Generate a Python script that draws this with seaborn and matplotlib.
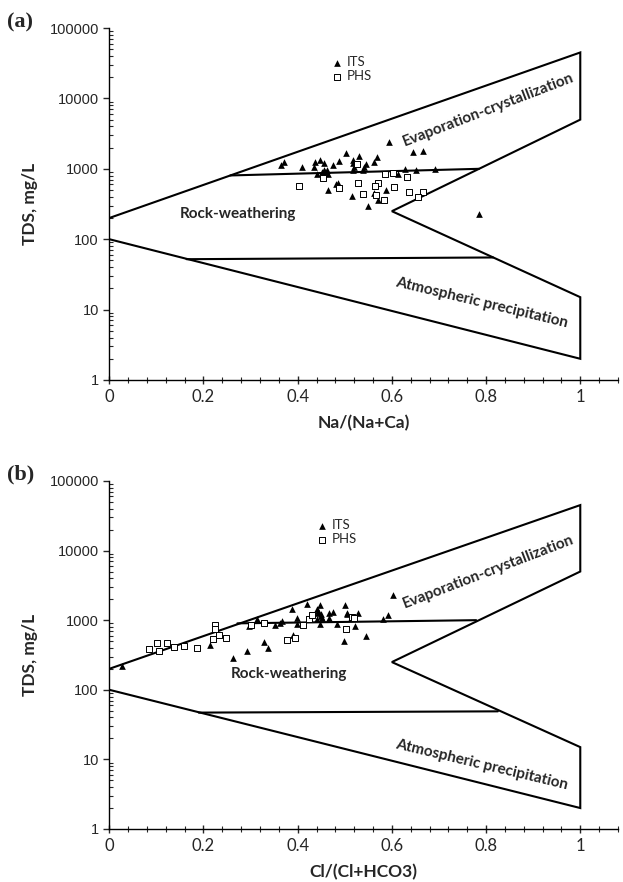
import matplotlib
matplotlib.use("Agg")
import matplotlib.pyplot as plt
import matplotlib.ticker as mticker
import seaborn as sns
import pandas as pd

# boundary of the Gibbs diagram (x, TDS)
outline_x = [0, 1, 1, 0.6, 1, 1, 0]
outline_y = [200, 45000, 5000, 250, 15, 2, 100]

# panel (a): Na/(Na+Ca)
a_upper_x = [0.257, 0.785]
a_upper_y = [805, 1000]
a_lower_x = [0.164, 0.815]
a_lower_y = [52, 55]

a_its_x = [0.364, 0.370, 0.409, 0.437, 0.448, 0.455, 0.435, 0.441, 0.451, 0.458,
           0.465, 0.455, 0.462, 0.475, 0.487, 0.503, 0.517, 0.517, 0.520, 0.518,
           0.530, 0.545, 0.540, 0.538, 0.568, 0.563, 0.594, 0.645, 0.666, 0.628,
           0.652, 0.692, 0.612, 0.485, 0.482, 0.464, 0.516, 0.561, 0.588, 0.571,
           0.550, 0.653, 0.785]
a_its_y = [1125, 1253, 1044, 1253, 1356, 1229, 1044, 857, 903, 903,
           857, 977, 977, 1125, 1295, 1683, 1356, 1213, 1064, 977,
           1511, 1189, 1064, 977, 1476, 1241, 2366, 1706, 1778, 987,
           977, 1010, 857, 638, 604, 497, 408, 446, 508, 366,
           294, 398, 225]
a_phs_x = [0.403, 0.526, 0.453, 0.487, 0.528, 0.571, 0.564, 0.586, 0.602, 0.632,
           0.605, 0.538, 0.566, 0.583, 0.637, 0.666, 0.655]
a_phs_y = [571, 1162, 752, 535, 638, 630, 571, 857, 875, 767,
           553, 436, 421, 366, 469, 469, 398]

# panel (b): Cl/(Cl+HCO3)
b_upper_x = [0.272, 0.779]
b_upper_y = [900, 1000]
b_lower_x = [0.19, 0.825]
b_lower_y = [47, 49]

b_its_x = [0.028, 0.214, 0.263, 0.292, 0.297, 0.314, 0.329, 0.337, 0.352, 0.366,
           0.363, 0.388, 0.391, 0.398, 0.399, 0.419, 0.444, 0.448, 0.449, 0.451,
           0.441, 0.448, 0.467, 0.476, 0.483, 0.501, 0.504, 0.499, 0.522, 0.529,
           0.444, 0.449, 0.441, 0.467, 0.504, 0.545, 0.582, 0.591, 0.603, 0.513]
b_its_y = [218, 433, 288, 366, 820, 1023, 489, 392, 847, 968,
           918, 1426, 622, 1083, 867, 1722, 1277, 1627, 1208, 1083,
           1426, 867, 1277, 1321, 888, 1627, 1277, 499, 820, 1277,
           1346, 1142, 1023, 1083, 1208, 589, 1023, 1169, 2290, 1083]
b_phs_x = [0.085, 0.102, 0.106, 0.123, 0.137, 0.159, 0.187, 0.225, 0.225, 0.221,
           0.234, 0.247, 0.300, 0.329, 0.378, 0.395, 0.411, 0.425, 0.431, 0.503,
           0.515, 0.520]
b_phs_y = [388, 473, 366, 473, 414, 423, 392, 839, 752, 540,
           622, 558, 839, 897, 527, 558, 839, 1047, 1169, 735,
           1119, 1083]

x_ticks = [0, 0.2, 0.4, 0.6, 0.8, 1]
x_labels = ["0", "0.2", "0.4", "0.6", "0.8", "1"]
y_ticks = [1, 10, 100, 1000, 10000, 100000]
y_labels = ["1", "10", "100", "1000", "10000", "100000"]

sns.set_style("ticks")
plt.rcParams["font.family"] = ["Lato", "DejaVu Sans"]

fig = plt.figure(figsize=(6.23, 8.82), dpi=100)
ax_a = fig.add_axes([0.1754, 0.5692, 0.8165, 0.399])
ax_b = fig.add_axes([0.1754, 0.0601, 0.8165, 0.3946])


def draw_panel(ax, upper, lower, its, phs, xlabel, texts, leg_anchor):
    ax.plot(outline_x, outline_y, color="black", lw=1.5, solid_joinstyle="miter")
    ax.plot(upper[0], upper[1], color="black", lw=1.5)
    ax.plot(lower[0], lower[1], color="black", lw=1.5)
    its_df = pd.DataFrame({"x": its[0], "tds": its[1]})
    phs_df = pd.DataFrame({"x": phs[0], "tds": phs[1]})
    sns.scatterplot(data=its_df, x="x", y="tds", ax=ax, marker="^", color="black",
                    s=23, linewidth=0, label="ITS", zorder=3)
    sns.scatterplot(data=phs_df, x="x", y="tds", ax=ax, marker="s", facecolor="white",
                    edgecolor="black", s=15, linewidth=0.7, label="PHS", zorder=3)
    ax.set_yscale("log")
    ax.set_xlim(0, 1.08)
    ax.set_ylim(1, 100000)
    ax.set_xticks(x_ticks)
    ax.set_xticklabels(x_labels, fontsize=12)
    ax.xaxis.set_minor_locator(mticker.MultipleLocator(0.04))
    ax.set_yticks(y_ticks)
    ax.set_yticklabels(y_labels, fontsize=10.5, family="Liberation Sans")
    ax.yaxis.set_minor_locator(mticker.LogLocator(base=10, subs=range(2, 10)))
    ax.yaxis.set_minor_formatter(mticker.NullFormatter())
    ax.tick_params(axis="x", which="major", direction="inout", length=6, width=1)
    ax.tick_params(axis="x", which="minor", direction="inout", length=4, width=0.8)
    ax.tick_params(axis="y", which="major", direction="out", length=4, width=1)
    ax.tick_params(axis="y", which="minor", direction="in", length=3, width=0.8)
    for side in ["top", "right"]:
        ax.spines[side].set_visible(False)
    for side in ["left", "bottom"]:
        ax.spines[side].set_color("black")
        ax.spines[side].set_linewidth(1)
    ax.set_xlabel(xlabel, fontsize=12.5, fontweight="bold", labelpad=7)
    ax.set_ylabel("TDS, mg/L", fontsize=12.5, fontweight="bold", labelpad=8)
    for (tx, ty, s, rot) in texts:
        ax.text(tx, ty, s, rotation=rot, ha="center", va="center",
                fontsize=11, fontweight="bold", rotation_mode="anchor")
    ax.legend(loc="upper left", bbox_to_anchor=leg_anchor, frameon=False,
              fontsize=9.5, handletextpad=0.2, labelspacing=0.15,
              borderaxespad=0, handlelength=1)


draw_panel(ax_a, (a_upper_x, a_upper_y), (a_lower_x, a_lower_y),
           (a_its_x, a_its_y), (a_phs_x, a_phs_y), "Na/(Na+Ca)",
           [(0.805, 6800, "Evaporation-crystallization", 21),
            (0.274, 226, "Rock-weathering", 0),
            (0.79, 12.6, "Atmospheric precipitation", -13.5)],
           (0.425, 0.935))
draw_panel(ax_b, (b_upper_x, b_upper_y), (b_lower_x, b_lower_y),
           (b_its_x, b_its_y), (b_phs_x, b_phs_y), "Cl/(Cl+HCO3)",
           [(0.805, 5000, "Evaporation-crystallization", 21),
            (0.382, 166, "Rock-weathering", 0),
            (0.79, 8.4, "Atmospheric precipitation", -13.5)],
           (0.395, 0.905))

fig.text(0.012, 0.975, "(a)", fontsize=16, fontweight="bold",
         family="Liberation Serif", va="center")
fig.text(0.012, 0.462, "(b)", fontsize=16, fontweight="bold",
         family="Liberation Serif", va="center")

fig.savefig("out.png", dpi=100)
